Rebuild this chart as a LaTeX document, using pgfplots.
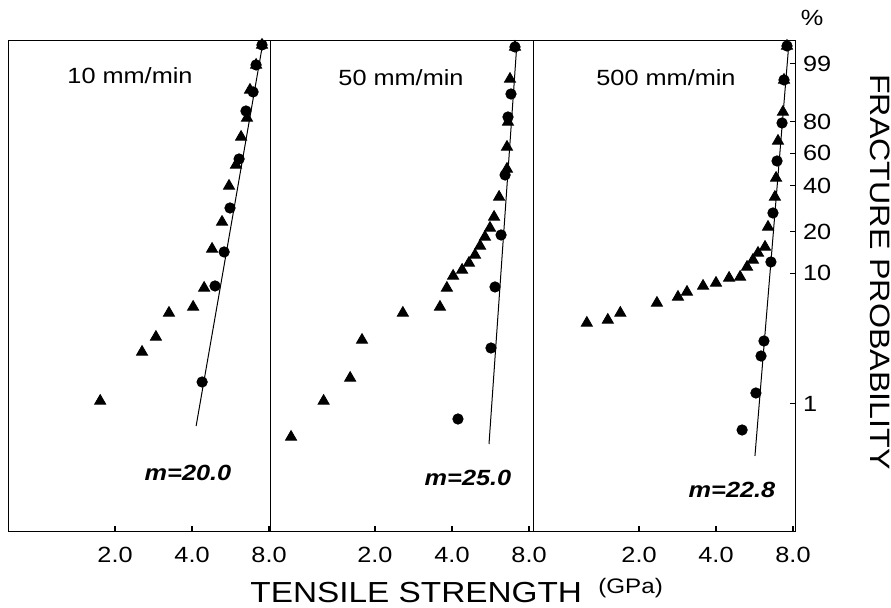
\documentclass[border=0pt]{standalone}
\usepackage{fontspec}
\setmainfont{Liberation Sans}[FakeStretch=1.15]
\usepackage{pgfplots}
\pgfplotsset{compat=1.18}

% y is the Weibull coordinate ln(-ln(1-F)); x is tensile strength (GPa) on a log axis
\pgfplotsset{
  wbpanel/.style={
    scale only axis,
    anchor=south west,
    height=245.5pt,
    ymin=-6.9073, ymax=1.9326,
    xtick={2,4,8}, xticklabels={2.0,4.0,8.0},
    minor xtick={},
    xtick pos=left,
    tick align=inside,
    major tick length=2.8pt,
    tick style={black, line width=0.6pt},
    x axis line style={line width=0.9pt},
    y axis line style={line width=0.5pt},
    /pgf/number format/assume math mode=true,
    tick label style={font=\fontsize{11}{13}\selectfont},
    every x tick label/.append style={yshift=-4pt},
    clip=false,
  },
  wbcirc/.style={only marks, mark=*, mark size=2.6pt, black},
  wbtri/.style={only marks, mark=triangle*, mark size=3.2pt, black},
  wbfit/.style={black, line width=0.5pt, no marks},
}

\begin{document}
\begin{tikzpicture}
\useasboundingbox (0,0) rectangle (445.5pt,304pt);

% 10 mm/min
\begin{axis}[xmode=log, wbpanel, ytick=\empty, at={(4.5pt,38pt)}, width=130.5pt, xmin=0.770, xmax=8.07]
  \addplot[wbfit] coordinates {(4.15,-4.999) (7.58,1.915)};
  \addplot[wbtri] coordinates {
    (7.51,1.861) (7.12,1.501) (6.74,1.051) (6.56,0.546) (6.22,0.204)
    (5.94,-0.300) (5.58,-0.678) (5.24,-1.326) (4.79,-1.812) (4.46,-2.514)
    (4.04,-2.856) (3.25,-2.964) (2.89,-3.397) (2.55,-3.667) (1.75,-4.549)
  };
  \addplot[wbcirc] coordinates {
    (7.51,1.861) (7.12,1.501) (6.93,1.015) (6.50,0.672) (6.11,-0.192)
    (5.63,-1.074) (5.34,-1.866) (4.92,-2.478) (4.38,-4.207)
  };
\end{axis}

% 50 mm/min
\begin{axis}[xmode=log, wbpanel, ytick=\empty, at={(135pt,38pt)}, width=131.5pt, xmin=0.778, xmax=8.29]
  \addplot[wbfit] coordinates {(5.58,-5.323) (7.18,1.915)};
  \addplot[wbtri] coordinates {
    (7.05,1.825) (6.74,1.248) (6.62,0.474) (6.56,0.024) (6.56,-0.372)
    (6.11,-0.876) (5.84,-1.236) (5.63,-1.434) (5.38,-1.596) (5.15,-1.758)
    (4.92,-1.920) (4.66,-2.064) (4.38,-2.190) (4.04,-2.298) (3.82,-2.514)
    (3.59,-2.856) (2.57,-2.964) (1.78,-3.451) (1.60,-4.135) (1.26,-4.549)
    (0.94,-5.197)
  };
  \addplot[wbcirc] coordinates {
    (7.05,1.825) (6.80,0.978) (6.62,0.564) (6.45,-0.480) (6.22,-1.560)
    (5.89,-2.496) (5.68,-3.595) (4.22,-4.873)
  };
\end{axis}

% 500 mm/min
\begin{axis}[xmode=log, wbpanel, at={(266.5pt,38pt)}, width=131.5pt, xmin=0.770, xmax=8.22,
    ytick={-4.6002,-2.2504,-1.4999,-0.6717,-0.0874,0.4759,1.5272},
    yticklabels={1,10,20,40,60,80,99},
    ytick pos=right, yticklabel pos=right]
  \addplot[wbfit] coordinates {(5.68,-5.539) (7.72,1.915)};
  \addplot[wbtri] coordinates {
    (7.58,1.843) (7.38,1.231) (7.31,0.654) (6.99,0.132) (6.87,-0.534)
    (6.80,-0.876) (6.39,-1.416) (6.22,-1.776) (5.84,-1.884) (5.58,-2.010)
    (5.29,-2.136) (4.97,-2.316) (4.50,-2.334) (4.00,-2.424) (3.56,-2.478)
    (3.08,-2.586) (2.84,-2.676) (2.35,-2.784) (1.69,-2.964) (1.51,-3.090)
    (1.25,-3.144)
  };
  \addplot[wbcirc] coordinates {
    (7.58,1.843) (7.38,1.231) (7.25,0.456) (6.93,-0.228) (6.68,-1.164)
    (6.56,-2.046) (6.16,-3.469) (6.00,-3.739) (5.73,-4.405) (5.06,-5.071)
  };
\end{axis}

% panel titles and slopes
\begin{scope}[every node/.style={font=\fontsize{11}{13}\selectfont, inner sep=0pt}]
  \node at (65pt,266pt) {10 mm/min};
  \node at (200.5pt,265pt) {50 mm/min};
  \node at (333pt,265pt) {500 mm/min};
  \node at (94pt,67.5pt) {\bfseries\itshape m=20.0};
  \node at (234pt,65pt) {\bfseries\itshape m=25.0};
  \node at (366pt,59pt) {\bfseries\itshape m=22.8};
  \node at (406pt,295pt) {\%};
\end{scope}

% axis titles
\node[anchor=base west, inner sep=0pt, font=\fontsize{14.5}{16}\selectfont]
  at (125pt,2.5pt) {TENSILE STRENGTH};
\node[anchor=base west, inner sep=0pt, font=\fontsize{10.5}{12}\selectfont]
  at (299pt,7pt) {(GPa)};
\node[rotate=-90, inner sep=0pt, font=\fontsize{14}{16}\selectfont]
  at (440pt,168pt) {FRACTURE PROBABILITY};
\end{tikzpicture}
\end{document}
